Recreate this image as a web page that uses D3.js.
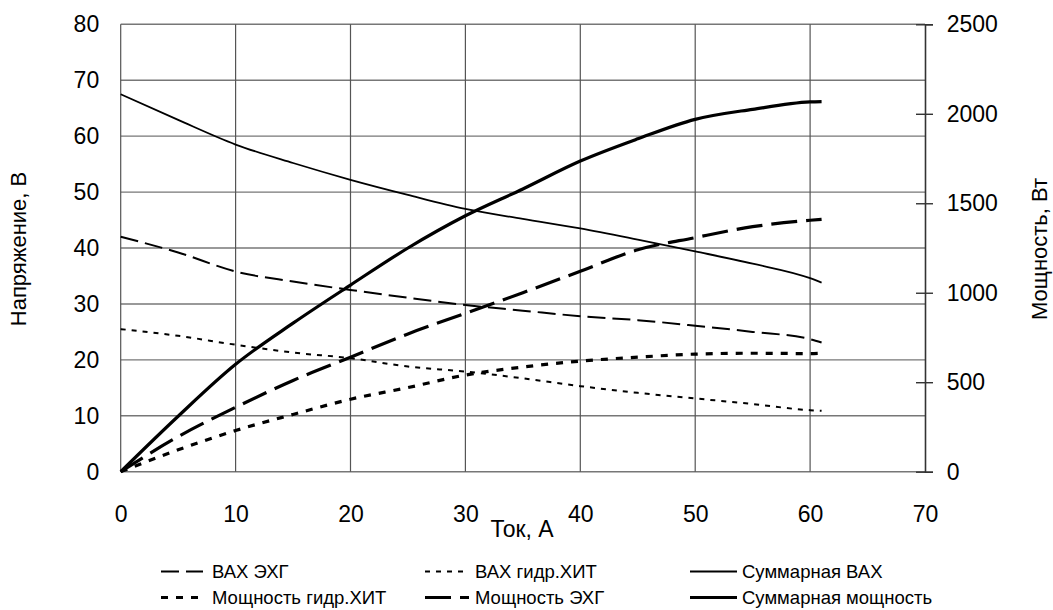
<!DOCTYPE html>
<html><head><meta charset="utf-8">
<script src="https://cdn.jsdelivr.net/npm/d3@7"></script>
<style>
body{margin:0;background:#fff;}
svg text{font-family:"Liberation Sans",Arial,sans-serif;fill:#000;}
</style></head>
<body><svg id="c" width="1053" height="610"></svg>
<script>
const current = [0, 5, 10, 15, 20, 25, 30, 35, 40, 45, 50, 55, 60, 61];
const vahEhg = [42.0, 39.2, 35.8, 34.0, 32.5, 31.1, 29.8, 28.8, 27.8, 27.1, 26.1, 25.0, 23.7, 23.1];
const vahHit = [25.5, 24.3, 22.7, 21.3, 20.3, 18.8, 17.9, 16.7, 15.3, 14.1, 13.1, 12.1, 11.0, 10.9];
const vahSum = [67.5, 62.9, 58.5, 55.2, 52.2, 49.5, 47.0, 45.2, 43.5, 41.5, 39.4, 37.2, 34.6, 33.8];
const powHit = [0, 122, 230, 320, 405, 470, 540, 585, 618, 640, 657, 662, 660, 662];
const powEhg = [0, 196, 360, 510, 640, 770, 885, 1000, 1120, 1240, 1308, 1369, 1405, 1410];
const powSum = [0, 310, 600, 830, 1043, 1250, 1430, 1580, 1736, 1860, 1969, 2025, 2066, 2068];
const xTicks = [0, 10, 20, 30, 40, 50, 60, 70];
const yLTicks = [0, 10, 20, 30, 40, 50, 60, 70, 80];
const yRTicks = [0, 500, 1000, 1500, 2000, 2500];
const labels = {x: "Ток, А", yL: "Напряжение, В", yR: "Мощность, Вт"};

const series = [
  {name: "ВАХ ЭХГ", vals: vahEhg, axis: "L", w: 2, dash: "18,7", col: 0, row: 0},
  {name: "ВАХ гидр.ХИТ", vals: vahHit, axis: "L", w: 2, dash: "5,6", col: 1, row: 0},
  {name: "Суммарная ВАХ", vals: vahSum, axis: "L", w: 1.8, dash: null, col: 2, row: 0},
  {name: "Мощность гидр.ХИТ", vals: powHit, axis: "R", w: 3.2, dash: "7,8", col: 0, row: 1},
  {name: "Мощность ЭХГ", vals: powEhg, axis: "R", w: 3.2, dash: "26,9", col: 1, row: 1},
  {name: "Суммарная мощность", vals: powSum, axis: "R", w: 3.2, dash: null, col: 2, row: 1}
];

const svg = d3.select("#c");
const L = 120.7, R = 925, T = 24.3, B = 471.7;
const x = d3.scaleLinear([0, 70], [L, R]);
const yL = d3.scaleLinear([0, 80], [B, T]);
const yR = d3.scaleLinear([0, 2500], [B, T]);

// grid
const g = svg.append("g");
g.selectAll(".h").data(yLTicks).join("line")
  .attr("x1", L).attr("x2", R).attr("y1", d => yL(d)).attr("y2", d => yL(d))
  .attr("stroke", "#777").attr("stroke-width", 1.4);
g.selectAll(".v").data(xTicks.slice(0, -1)).join("line")
  .attr("y1", T).attr("y2", B).attr("x1", d => x(d)).attr("x2", d => x(d))
  .attr("stroke", "#555").attr("stroke-width", 1.2);

// axes
const fs = 23;
const ax = svg.append("g").attr("transform", `translate(0,${B})`)
  .call(d3.axisBottom(x).tickValues(xTicks).tickSize(0).tickPadding(34));
ax.select(".domain").remove();
ax.selectAll("text").attr("font-size", fs).style("font-family", "Liberation Sans, Arial");

const al = svg.append("g").attr("transform", `translate(${L},0)`)
  .call(d3.axisLeft(yL).tickValues(yLTicks).tickSize(0).tickPadding(21.5));
al.select(".domain").remove();
al.selectAll("text").attr("font-size", fs).style("font-family", "Liberation Sans, Arial");

const ar = svg.append("g").attr("transform", `translate(${R},0)`)
  .call(d3.axisRight(yR).tickValues(yRTicks).tickFormat(d3.format("d")).tickSize(8).tickPadding(13.7));
ar.select(".domain").attr("stroke", "#333").attr("stroke-width", 1.6);
ar.selectAll(".tick line").attr("x1", -9).attr("stroke", "#333").attr("stroke-width", 1.4);
ar.selectAll("text").attr("font-size", fs).style("font-family", "Liberation Sans, Arial");

// series
series.forEach(s => {
  const yy = s.axis === "L" ? yL : yR;
  const line = d3.line().x((d, i) => x(current[i])).y(d => yy(d)).curve(d3.curveMonotoneX);
  svg.append("path").datum(s.vals).attr("d", line)
    .attr("fill", "none").attr("stroke", "#000").attr("stroke-width", s.w)
    .attr("stroke-dasharray", s.dash);
});

// titles
svg.append("text").attr("x", 522).attr("y", 537).attr("text-anchor", "middle")
  .attr("font-size", 23).text(labels.x);
svg.append("text").attr("transform", "translate(26,249) rotate(-90)").attr("text-anchor", "middle")
  .attr("font-size", 22).text(labels.yL);
svg.append("text").attr("transform", "translate(1047,249) rotate(-90)").attr("text-anchor", "middle")
  .attr("font-size", 22).text(labels.yR);

// legend
const colX = [[161, 203, 212], [425, 469, 475], [690, 737, 742]];
const rowY = [578, 604];
series.forEach(s => {
  const c = colX[s.col], by = rowY[s.row];
  svg.append("line").attr("x1", c[0]).attr("x2", c[1]).attr("y1", by - 6.5).attr("y2", by - 6.5)
    .attr("stroke", "#000").attr("stroke-width", s.w).attr("stroke-dasharray", s.dash);
  svg.append("text").attr("x", c[2]).attr("y", by).attr("font-size", 18.5).text(s.name);
});
</script></body></html>
